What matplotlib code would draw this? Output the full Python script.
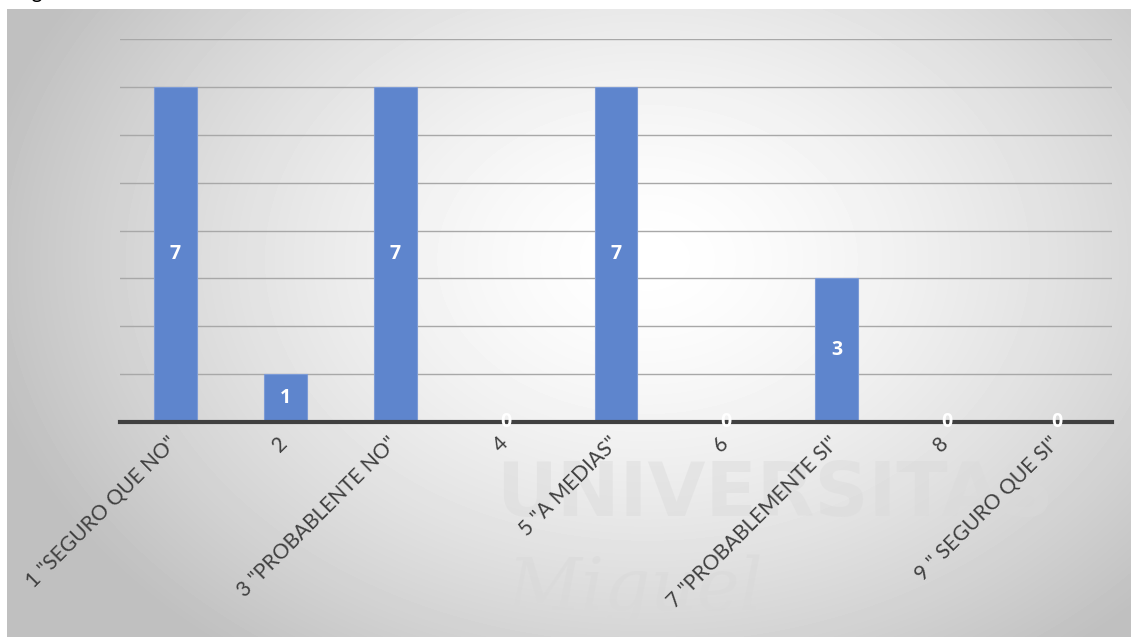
import numpy as np
import matplotlib.pyplot as plt
import matplotlib.transforms as mtransforms

categories = ['1 "SEGURO QUE NO"', '2', '3 "PROBABLENTE NO"', '4', '5 "A MEDIAS"',
              '6', '7 "PROBABLEMENTE SI"', '8', '9 " SEGURO QUE SI"']
counts = [7, 1, 7, 0, 7, 0, 3, 0, 0]

plt.rcParams['font.family'] = ['Lato', 'DejaVu Sans']

W, H = 1131, 637
fig = plt.figure(figsize=(W / 100, H / 100), dpi=100)

# background panel with radial gradient
bg = fig.add_axes([7 / W, 0, 1 - 7 / W, (H - 9) / H])
yy, xx = np.mgrid[0:628, 0:1124]
r = np.sqrt(((xx - 640) / 680.0) ** 2 + ((yy - 250) / 500.0) ** 2)
shade = 1.0 - 0.25 * np.clip(r, 0, 1) ** 1.5
bg.imshow(shade, cmap='gray', vmin=0, vmax=1, aspect='auto', extent=[0, 1, 0, 1])
bg.set_xlim(0, 1)
bg.set_ylim(0, 1)
bg.axis('off')

# faint watermark
bg.text(0.435, 0.225, 'UNIVERSITAS', fontsize=54, fontweight='bold', color='#dadada',
        alpha=0.45, ha='left', va='center', family='DejaVu Sans')
bg.text(0.445, 0.075, 'Miguel', fontsize=52, style='italic', color='#d8d8d8',
        alpha=0.45, ha='left', va='center', family='DejaVu Serif')

# cut-off caption above
fig.text(15 / W, 1 + 1.5 / H, 'Figura', fontsize=15, va='baseline', color='black')

ax = fig.add_axes([120 / W, (H - 422) / H, (1112 - 120) / W, (422 - 39) / H])
ax.patch.set_alpha(0)
x = np.arange(len(categories))
bars = ax.bar(x, counts, width=0.39, color='#5E85CD', edgecolor='#7d9bd6', linewidth=0.8, zorder=3)
for xi, v in zip(x, counts):
    ax.text(xi, v / 2, str(v), ha='center', va='center', color='white',
            fontsize=14, fontweight='bold', family='Open Sans', zorder=6)

ax.set_xlim(-0.5, len(categories) - 0.5)
ax.set_ylim(0, 8)
ax.set_yticks(range(0, 9))
ax.set_yticklabels([])
ax.tick_params(axis='y', length=0)
ax.tick_params(axis='x', length=0, pad=8)
ax.grid(axis='y', color='#a8a8a8', linewidth=1.0, zorder=1)
for s in ['top', 'right', 'left']:
    ax.spines[s].set_visible(False)
ax.spines['bottom'].set_color('#404040')
ax.spines['bottom'].set_linewidth(3)
ax.spines['bottom'].set_zorder(5)
ax.set_xticks(x)
ax.set_xticklabels(categories, rotation=45, ha='right', va='top', rotation_mode='anchor',
                   fontsize=15, color='#404040')
shift = mtransforms.ScaledTranslation(-8 / 100, 0, fig.dpi_scale_trans)
for lbl in ax.get_xticklabels():
    lbl.set_transform(lbl.get_transform() + shift)

fig.savefig('out.png', dpi=100)
